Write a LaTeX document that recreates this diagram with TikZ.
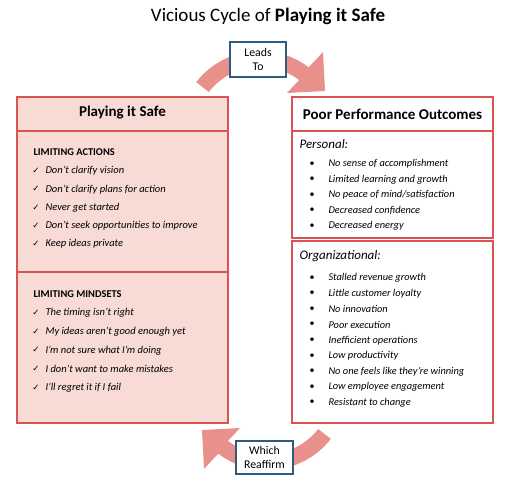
\documentclass[tikz,border=0pt]{standalone}
\usepackage{fontspec}
\setmainfont{Carlito}
\newfontfamily\symfont{DejaVu Sans}
\usetikzlibrary{positioning}
\definecolor{boxred}{HTML}{D9534F}
\definecolor{boxpink}{HTML}{F8DBD5}
\definecolor{arrowpink}{HTML}{E8918A}
\definecolor{tagblue}{HTML}{2E5B80}

\tikzset{
  panel/.style={draw=boxred,line width=1.5pt},
  head/.style={font=\fontsize{15}{17}\selectfont\bfseries},
  group/.style={anchor=west,font=\fontsize{10.4}{12}\selectfont\bfseries},
  act/.style={anchor=west,font=\fontsize{10.5}{12}\selectfont\itshape},
  tick/.style={font=\symfont\fontsize{8.5}{10}\selectfont},
  sub/.style={anchor=west,font=\fontsize{13}{15}\selectfont\itshape},
  outcome/.style={anchor=west,font=\fontsize{10.4}{12}\selectfont\itshape},
  dot/.style={font=\fontsize{10}{12}\selectfont},
  tag/.style={draw=tagblue,line width=1.5pt,fill=white,align=center,
    font=\fontsize{11.8}{14}\selectfont,minimum width=56pt,minimum height=35pt,inner sep=0pt},
}

% one curved block arrow, centred on (260,350)
\newcommand\cyclearrow{%
  \fill[arrowpink,shift={(260,350)}] (142:81) arc[start angle=142,end angle=53,radius=81]
    -- (63,80) -- (65,41) -- (27,39) -- (53:65) arc[start angle=53,end angle=142,radius=65] -- cycle;}

\begin{document}
\begin{tikzpicture}[x=1pt,y=1pt]
  \useasboundingbox (0,0) rectangle (513,482);
  \node[font=\fontsize{19}{22}\selectfont] (title) at (268,466) {Vicious Cycle of \textbf{Playing it Safe}};

  % arrows
  \cyclearrow
  \begin{scope}[rotate around={180:(263.5,221.5)}]
    \cyclearrow
  \end{scope}

  % left panel
  \fill[boxpink] (17,59) rectangle (228,385);
  \draw[panel] (17,59) rectangle (228,385);
  \draw[panel] (17,351) -- (228,351);
  \draw[panel] (17,210) -- (228,210);
  \node[head] (safe) at (122.5,369) {Playing it Safe};

  \node[group] (actions) at (30,330) {LIMITING ACTIONS};
  \foreach \txt [count=\i] in {Don’t clarify vision, Don’t clarify plans for  action,
      Never get started, Don’t seek opportunities to improve, Keep ideas private}{
    \node[tick] (tickA\i) at (36,329.3-18.3*\i) {✓};
    \node[act] (actA\i) at (42,329.3-18.3*\i) {\txt};
  }

  \node[group] (mindsets) at (30,187.5) {LIMITING MINDSETS};
  \foreach \txt [count=\i] in {The timing isn’t right, My ideas aren’t good enough yet,
      I’m not sure what I’m doing, I don’t want to make mistakes, I’ll regret it if I fail}{
    \node[tick] (tickM\i) at (36,187.5-18.6*\i) {✓};
    \node[act] (actM\i) at (42,187.5-18.6*\i) {\txt};
  }

  % right panel
  \draw[panel] (292,351) rectangle (493,385);
  \draw[panel] (292,244) rectangle (493,351);
  \draw[panel] (292,59) rectangle (493,241);
  \node[head] (poor) at (392.5,367.5) {Poor Performance Outcomes};

  \node[sub] (personal) at (296,338) {Personal:};
  \foreach \txt [count=\i] in {No sense of accomplishment, Limited learning and growth,
      No peace of mind/satisfaction, Decreased confidence, Decreased energy}{
    \node[dot] (dotP\i) at (312,333.6-15.5*\i) {•};
    \node[outcome] (outP\i) at (325,333.6-15.5*\i) {\txt};
  }

  \node[sub] (org) at (296,226) {Organizational:};
  \foreach \txt [count=\i] in {Stalled revenue growth, Little customer loyalty, No innovation,
      Poor execution, Inefficient operations, Low productivity,
      No one feels like they’re winning, Low employee engagement, Resistant to change}{
    \node[dot] (dotO\i) at (312,219.5-15.55*\i) {•};
    \node[outcome] (outO\i) at (325,219.5-15.55*\i) {\txt};
  }

  % labels on the arrows
  \node[tag] (leads) at (258,422.5) {Leads\\To};
  \node[tag,minimum width=57pt,minimum height=33pt] (reaffirm) at (264.5,24.5) {Which\\Reaffirm};
\end{tikzpicture}
\end{document}
